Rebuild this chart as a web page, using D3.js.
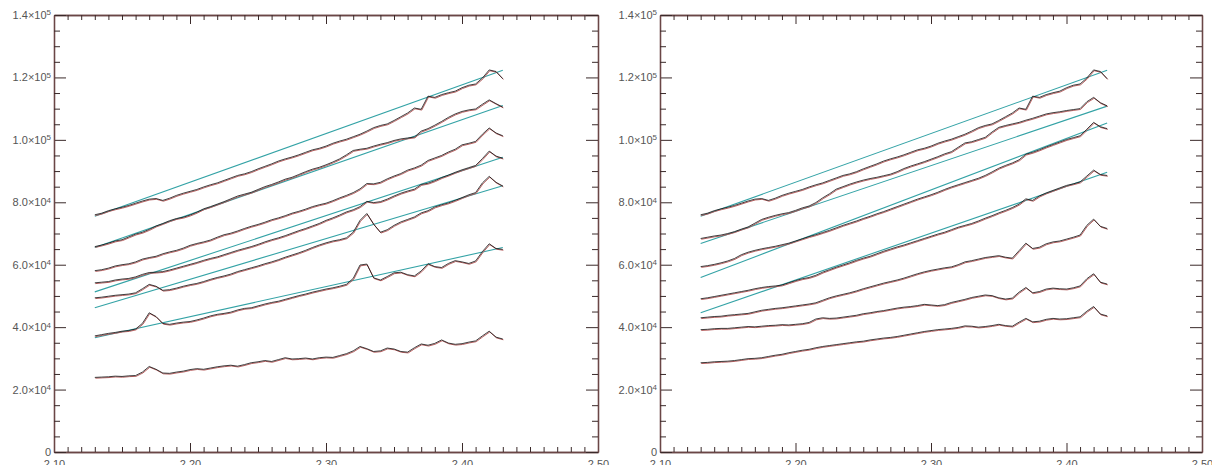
<!DOCTYPE html>
<html><head><meta charset="utf-8">
<script src="https://cdn.jsdelivr.net/npm/d3@7"></script>
<style>html,body{margin:0;padding:0;background:#fff;}svg{display:block;}</style>
</head><body>
<svg id="chart" width="1212" height="465"></svg>
<script>
// wavelength grid (micron)
const wavelength = [2.130,2.135,2.140,2.145,2.150,2.155,2.160,2.165,2.170,2.175,2.180,2.185,2.190,2.195,2.200,2.205,2.210,2.215,2.220,2.225,2.230,2.235,2.240,2.245,2.250,2.255,2.260,2.265,2.270,2.275,2.280,2.285,2.290,2.295,2.300,2.305,2.310,2.315,2.320,2.325,2.330,2.335,2.340,2.345,2.350,2.355,2.360,2.365,2.370,2.375,2.380,2.385,2.390,2.395,2.400,2.405,2.410,2.415,2.420,2.425,2.430];

// flux values in units of 1000
const left1 = [76.0,76.5,77.3,77.9,78.4,79.0,79.7,80.4,81.0,81.2,80.6,81.3,82.2,82.9,83.5,84.1,84.9,85.6,86.2,87.0,87.8,88.6,89.1,89.8,90.7,91.5,92.3,93.2,93.9,94.5,95.2,96.0,96.8,97.3,98.0,98.9,99.6,100.2,101.0,101.8,102.8,103.9,104.6,105.1,106.2,107.4,108.6,110.2,109.8,114.0,113.6,114.5,115.1,115.6,116.7,117.5,117.9,119.8,122.4,121.9,119.6];
const left2 = [65.8,66.3,66.9,67.6,68.0,68.9,69.8,70.4,71.3,72.4,73.2,74.1,74.8,75.2,75.9,76.8,77.9,78.6,79.4,80.2,81.1,82.0,82.6,83.2,84.1,85.0,85.7,86.5,87.4,88.0,88.9,89.8,90.6,91.2,92.0,92.9,93.9,95.2,96.6,97.0,97.3,98.0,98.6,99.1,99.8,100.3,100.6,100.9,102.8,103.6,104.7,105.9,107.2,108.3,109.1,109.6,109.9,111.4,112.8,111.6,110.5];
const left3 = [58.1,58.4,58.9,59.6,60.0,60.3,60.9,61.8,62.3,62.7,63.5,64.1,64.6,65.3,66.2,66.8,67.3,67.9,68.8,69.6,70.1,70.8,71.6,72.3,72.9,73.6,74.4,75.0,75.7,76.5,77.1,77.8,78.6,79.2,79.7,80.5,81.4,82.2,83.1,84.3,86.0,85.9,86.4,87.5,88.4,89.2,90.3,91.0,91.9,93.4,94.2,95.0,96.1,97.0,98.4,98.9,99.5,101.8,103.8,102.2,101.3];
const left4 = [54.2,54.4,54.6,55.1,55.4,55.6,56.1,56.9,57.5,57.6,57.8,58.3,58.9,59.5,60.1,60.7,61.4,62.0,62.5,63.2,63.9,64.6,65.2,65.8,66.5,67.3,68.0,68.6,69.3,70.1,70.9,71.6,72.4,73.2,74.2,75.0,75.9,76.9,77.6,78.6,80.3,79.9,80.2,81.0,82.0,82.9,83.6,84.2,85.7,86.1,86.9,87.9,88.7,89.6,90.4,91.1,91.8,94.0,96.4,94.8,94.1];
const left5 = [49.4,49.6,49.9,50.2,50.4,50.6,51.0,52.3,53.7,53.1,51.8,52.0,52.5,53.1,53.6,54.0,54.6,55.3,55.9,56.4,57.0,57.8,58.4,59.0,59.6,60.3,60.9,61.6,62.4,63.1,63.8,64.6,65.5,66.3,67.0,67.6,68.0,68.6,70.4,74.2,76.4,73.0,70.4,71.2,72.6,73.7,74.5,75.3,76.6,77.3,78.5,79.2,79.8,80.6,81.5,82.4,83.1,86.2,88.3,86.4,85.2];
const left6 = [37.2,37.6,38.0,38.3,38.7,38.9,39.4,41.2,44.6,43.4,41.2,40.9,41.3,41.6,41.8,42.3,42.9,43.6,44.1,44.4,44.8,45.5,46.0,46.2,46.8,47.4,47.9,48.3,48.9,49.5,50.1,50.6,51.2,51.7,52.2,52.6,53.1,53.7,55.6,59.9,60.2,55.8,55.1,56.2,57.4,57.6,56.8,56.4,58.0,60.3,59.4,59.1,60.4,61.3,60.9,60.4,61.2,64.2,66.7,65.2,64.9];
const left7 = [23.9,24.0,24.1,24.3,24.2,24.4,24.5,25.6,27.4,26.5,25.3,25.2,25.6,25.9,26.4,26.7,26.5,26.9,27.3,27.6,27.8,27.5,28.0,28.6,28.9,29.3,29.0,29.6,30.2,29.8,29.9,30.1,29.8,30.2,30.4,30.3,30.9,31.5,32.4,33.8,33.1,32.2,32.4,33.3,33.0,32.2,32.0,33.4,34.6,34.2,34.8,35.9,34.9,34.5,34.7,35.2,35.6,37.2,38.7,36.8,36.2];

const right2 = [68.4,68.8,69.2,69.5,70.0,70.6,71.4,72.1,73.3,74.5,75.2,75.8,76.3,76.7,77.4,78.2,78.8,79.9,81.4,82.7,84.2,85.0,85.8,86.5,87.1,87.6,88.0,88.5,89.0,89.8,90.8,91.6,92.3,93.0,93.8,94.6,95.5,96.2,97.6,99.0,99.4,100.1,100.8,102.5,104.0,104.6,105.1,105.6,106.3,106.9,107.6,108.3,108.7,109.0,109.4,109.7,110.0,112.2,113.6,111.9,110.9];
const right3 = [59.4,59.7,60.1,60.6,61.2,62.0,63.2,64.0,64.6,65.1,65.5,65.9,66.4,66.9,67.6,68.3,69.0,69.6,70.3,71.0,71.8,72.6,73.3,74.0,74.8,75.5,76.3,77.0,77.8,78.6,79.4,80.2,81.0,81.7,82.4,83.2,84.1,84.9,85.6,86.3,87.0,87.7,88.6,89.7,90.9,91.8,92.6,93.6,95.4,96.0,96.8,97.7,98.5,99.3,100.1,100.7,101.3,103.4,105.6,104.2,103.6];
const right4 = [49.1,49.4,49.8,50.2,50.6,51.0,51.4,51.8,52.3,52.7,53.0,53.2,53.5,54.2,54.9,55.5,55.9,56.6,57.6,58.4,59.2,59.9,60.6,61.4,62.1,62.7,63.5,64.3,65.0,65.7,66.3,67.0,67.7,68.4,69.1,69.8,70.4,71.2,72.0,72.6,73.2,74.0,74.9,75.7,76.6,77.4,78.3,79.4,81.1,80.6,82.0,83.0,83.8,84.6,85.4,85.9,86.5,88.4,90.3,88.9,88.6];
const right5 = [43.0,43.2,43.4,43.5,43.8,44.0,44.2,44.4,44.9,45.4,45.7,46.0,46.2,46.5,46.8,47.1,47.4,47.8,48.6,49.4,50.0,50.5,51.0,51.6,52.3,52.9,53.5,54.1,54.6,55.1,55.7,56.4,57.1,57.7,58.2,58.6,59.0,59.3,60.0,60.9,61.3,61.8,62.3,62.6,62.9,62.4,62.1,64.5,66.9,65.2,65.6,66.7,67.3,67.6,68.2,68.8,69.5,72.6,74.6,72.3,71.6];
const right6 = [39.2,39.3,39.5,39.6,39.6,39.8,40.0,40.2,40.1,40.3,40.5,40.6,40.8,40.7,40.9,41.1,41.5,42.6,43.0,42.8,42.9,43.2,43.5,43.8,44.3,44.6,45.0,45.3,45.7,46.1,46.4,46.6,46.9,47.3,47.1,46.9,47.2,47.9,48.4,48.9,49.5,49.9,50.3,50.1,49.4,49.0,49.3,51.2,52.7,51.0,51.4,52.2,52.5,52.3,52.2,52.6,53.2,55.5,57.1,54.4,53.8];
const right7 = [28.6,28.7,28.9,29.0,29.1,29.3,29.6,29.9,30.0,30.2,30.6,31.0,31.3,31.8,32.2,32.6,32.9,33.4,33.8,34.1,34.4,34.7,35.0,35.3,35.5,35.9,36.2,36.5,36.7,37.0,37.4,37.8,38.2,38.6,38.9,39.2,39.4,39.6,39.9,40.4,40.3,40.0,40.2,40.5,40.9,40.5,40.3,41.6,42.8,41.7,41.9,42.5,42.8,42.6,42.7,43.0,43.3,45.1,46.6,44.2,43.6];

// straight-line continuum fits: value at first and last fit wavelength
const fitWavelength = [2.13, 2.43];
const leftFit1 = [75.5, 122.3];
const leftFit2 = [65.5, 111.0];
const leftFit3 = [51.3, 94.4];
const leftFit4 = [46.2, 85.3];
const leftFit5 = [36.6, 65.5];
const rightFit1 = [75.5, 122.3];
const rightFit2 = [66.8, 110.8];
const rightFit3 = [55.9, 105.4];
const rightFit4 = [44.6, 89.6];

const xTickLabels = ["2.10","2.20","2.30","2.40","2.50"];
const yTickValues = [0,20,40,60,80,100,120,140];
const yTickMantissa = ["0","2.0","4.0","6.0","8.0","1.0","1.2","1.4"];
const yTickExponent = ["","4","4","4","4","5","5","5"];

const panels = [
  {left:54, right:598, series:[left1,left2,left3,left4,left5,left6,left7], fits:[leftFit1,leftFit2,leftFit3,leftFit4,leftFit5]},
  {left:660, right:1202, series:[left1,right2,right3,right4,right5,right6,right7], fits:[rightFit1,rightFit2,rightFit3,rightFit4]}
];

const svg = d3.select("#chart");
const plotTop = 15, plotBottom = 452;
const axisColor = "#6a4646";

panels.forEach(p => {
  const x = d3.scaleLinear().domain([2.10, 2.50]).range([p.left, p.right]);
  const y = d3.scaleLinear().domain([0, 140]).range([plotBottom, plotTop]);
  const g = svg.append("g");

  const xMajor = xTickLabels.map(Number);
  const xMinor = d3.range(2.10, 2.5001, 0.01).map(v => +v.toFixed(2)).filter(v => !xMajor.some(m => Math.abs(m - v) < 1e-6));
  const yMinor = d3.range(0, 140.01, 5).filter(v => v % 20 !== 0);

  const styleAxis = sel => {
    sel.selectAll("path.domain").attr("stroke", axisColor).attr("stroke-width", 1.3);
    sel.selectAll(".tick line").attr("stroke", "#3a2a2a").attr("stroke-width", 1);
  };

  // bottom
  g.append("g").attr("transform", `translate(0,${plotBottom})`)
    .call(d3.axisBottom(x).tickValues(xMajor).tickSize(-9).tickSizeOuter(0).tickPadding(8).tickFormat((d,i) => xTickLabels[i]))
    .call(styleAxis)
    .call(s => s.selectAll("text").attr("fill", "#555").attr("font-size", 11).attr("font-family", "Liberation Sans, Arial, sans-serif"));
  g.append("g").attr("transform", `translate(0,${plotBottom})`)
    .call(d3.axisBottom(x).tickValues(xMinor).tickSize(-5).tickSizeOuter(0).tickFormat(""))
    .call(styleAxis);
  // top
  g.append("g").attr("transform", `translate(0,${plotTop})`)
    .call(d3.axisTop(x).tickValues(xMajor).tickSize(-9).tickSizeOuter(0).tickFormat(""))
    .call(styleAxis);
  g.append("g").attr("transform", `translate(0,${plotTop})`)
    .call(d3.axisTop(x).tickValues(xMinor).tickSize(-5).tickSizeOuter(0).tickFormat(""))
    .call(styleAxis);
  // left
  const la = g.append("g").attr("transform", `translate(${p.left},0)`)
    .call(d3.axisLeft(y).tickValues(yTickValues).tickSize(-12).tickSizeOuter(0).tickPadding(3).tickFormat(""))
    .call(styleAxis);
  la.selectAll(".tick").each(function(d, i) {
    const t = d3.select(this).append("text")
      .attr("x", -3).attr("dy", "0.32em").attr("text-anchor", "end")
      .attr("fill", "#555").attr("font-size", 11).attr("font-family", "Liberation Sans, Arial, sans-serif");
    if (yTickExponent[i] === "") {
      t.text(yTickMantissa[i]);
    } else {
      t.append("tspan").text(yTickMantissa[i] + "\u00d710");
      t.append("tspan").attr("dy", "-0.45em").attr("font-size", 8).text(yTickExponent[i]);
    }
  });
  g.append("g").attr("transform", `translate(${p.left},0)`)
    .call(d3.axisLeft(y).tickValues(yMinor).tickSize(-6).tickSizeOuter(0).tickFormat(""))
    .call(styleAxis);
  // right
  g.append("g").attr("transform", `translate(${p.right},0)`)
    .call(d3.axisRight(y).tickValues(yTickValues).tickSize(-12).tickSizeOuter(0).tickFormat(""))
    .call(styleAxis);
  g.append("g").attr("transform", `translate(${p.right},0)`)
    .call(d3.axisRight(y).tickValues(yMinor).tickSize(-6).tickSizeOuter(0).tickFormat(""))
    .call(styleAxis);

  // fits
  const fitLine = d3.line().x((d, i) => x(fitWavelength[i])).y(d => y(d));
  p.fits.forEach(f => {
    g.append("path").attr("d", fitLine(f)).attr("fill", "none")
      .attr("stroke", "#34a3a6").attr("stroke-width", 1.1);
  });

  // spectra: model (red) and data (black)
  const specLine = d3.line().x((d, i) => x(wavelength[i])).y(d => y(d));
  p.series.forEach(s => {
    g.append("path").attr("d", specLine(s)).attr("fill", "none")
      .attr("stroke", "#b05050").attr("stroke-width", 0.9).attr("transform", "translate(0.6,0.8)");
    g.append("path").attr("d", specLine(s)).attr("fill", "none")
      .attr("stroke", "#111").attr("stroke-width", 0.8);
  });
});
</script>
</body></html>
